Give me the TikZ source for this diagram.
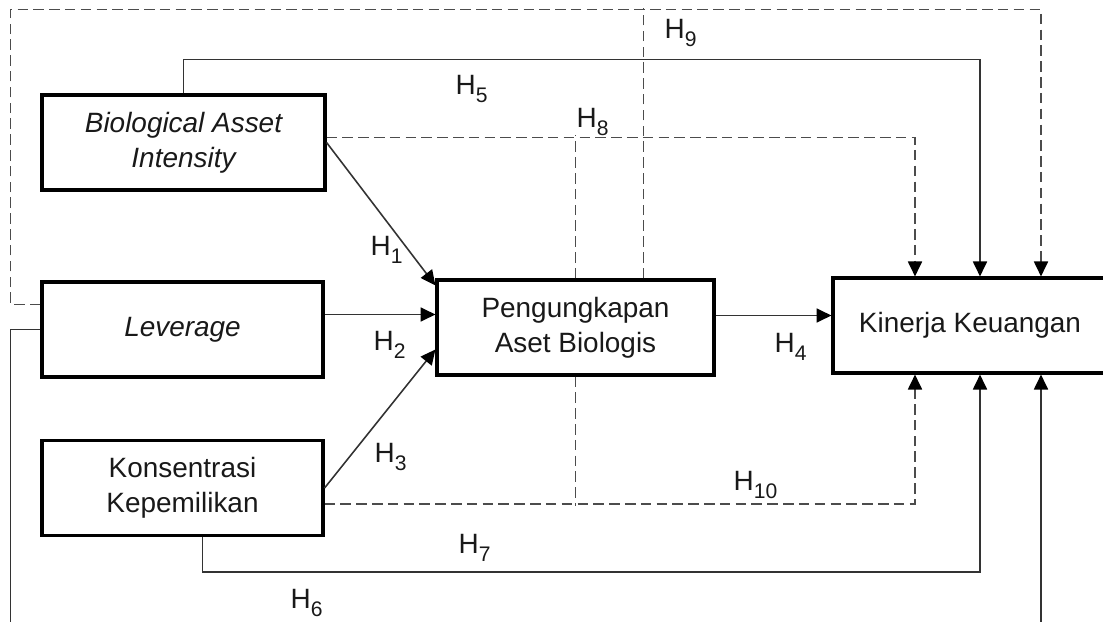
\documentclass[tikz,border=0pt]{standalone}
\usepackage{fontspec}
\setmainfont{Liberation Sans}
\usetikzlibrary{arrows.meta,calc}

\newcommand\fsz{\fontsize{15.9}{19.8}\selectfont}
\newcommand\hyp[1]{H\raisebox{-5pt}{\fontsize{12}{12}\selectfont #1}}

\begin{document}
\begin{tikzpicture}[x=0.02cm,y=-0.02cm,line width=0.8pt,font=\fsz,
    box/.style={draw,line width=1.8pt,minimum height=1.9cm,align=center,inner sep=0pt,text=black!90},
    itbox/.style={box,font=\fsz\itshape},
    link/.style={draw=black!80,line width=0.9pt},
    mod/.style={draw=black!70,line width=0.9pt,dash pattern=on 6pt off 3pt},
    tip/.style={-{Triangle[length=8.5pt,width=8pt,black]}},
    lbl/.style={inner sep=0pt,anchor=base west,text=black!90}]
    \useasboundingbox (0,0) rectangle (1103,622);
    \clip (0,0) rectangle (1103,622);

    \node[itbox,minimum width=5.66cm](bai) at (183.5,142.5) {Biological Asset\\Intensity};
    \node[itbox,minimum width=5.62cm](lev) at (182.5,329.5) {Leverage};
    \node[box,minimum width=5.62cm](kon) at (182.5,488) {Konsentrasi\\Kepemilikan};
    \node[box,minimum width=5.54cm](peng) at (575.5,327.5) {Pengungkapan\\Aset Biologis};
    \node[box,minimum width=5.48cm](kin) at (970,325.5) {Kinerja Keuangan};

    % direct paths
    \draw[link,tip] (bai.east) -- ($(peng.north west)+(0,7)$);
    \draw[link,tip] ($(lev.east)+(0,-15)$) -- ($(peng.west)+(0,-13)$);
    \draw[link,tip] (kon.east) -- ($(peng.west)+(0,22)$);
    \draw[link,tip] ($(peng.east)+(0,-12)$) -- ($(kin.west)+(0,-10)$);
    \draw[link,tip] (bai.north) -- ++(0,-34) -| ($(kin.north)+(10,0)$);
    \draw[link,tip] ($(kon.south)+(20,0)$) -- ++(0,35) -| ($(kin.south)+(10,0)$);
    \draw[link,tip] (lev.west) -- ++(-30,0) -- ++(0,320) -| ($(kin.south)+(71,0)$);

    % mediated paths
    \draw[mod,tip] ($(bai.east)+(0,-5)$) -| ($(kin.north)+(-55,0)$);
    \draw[mod] (peng.north) -- ++(0,-143);
    \draw[mod,tip] ($(lev.west)+(0,-25)$) -- ++(-30,0) -- ++(0,-295) -| ($(kin.north)+(71,0)$);
    \draw[mod] ($(peng.north)+(68,0)$) -- ++(0,-270);
    \draw[mod,tip] ($(kon.east)+(0,16)$) -| ($(kin.south)+(-55,0)$);
    \draw[mod] (peng.south) -- ++(0,129);

    \node[lbl](h1) at (370,255) {\hyp{1}};
    \node[lbl](h2) at (373,350) {\hyp{2}};
    \node[lbl](h3) at (374,462) {\hyp{3}};
    \node[lbl](h4) at (774,352) {\hyp{4}};
    \node[lbl](h5) at (455,94) {\hyp{5}};
    \node[lbl](h6) at (290,608) {\hyp{6}};
    \node[lbl](h7) at (458,553) {\hyp{7}};
    \node[lbl](h8) at (576,127) {\hyp{8}};
    \node[lbl](h9) at (664,38) {\hyp{9}};
    \node[lbl](h10) at (733,490) {\hyp{10}};
\end{tikzpicture}
\end{document}
